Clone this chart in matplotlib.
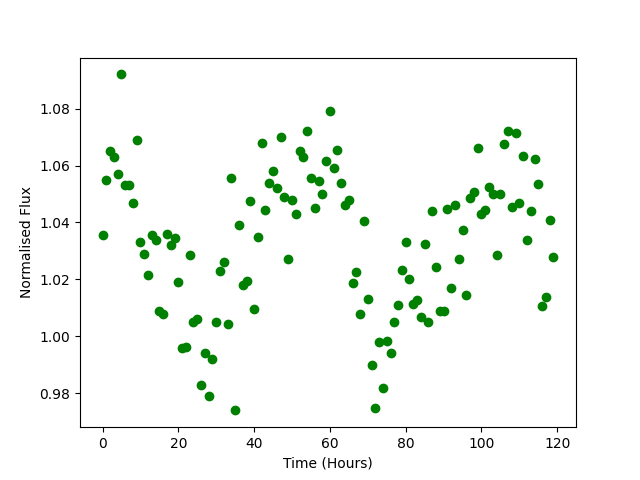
import matplotlib
matplotlib.use("Agg")
import matplotlib.pyplot as plt
import numpy as np

time_hours = list(range(120))
flux = [
    1.0355, 1.055, 1.065, 1.063, 1.057, 1.092, 1.053, 1.053, 1.047, 1.069,
    1.033, 1.029, 1.0215, 1.0355, 1.034, 1.009, 1.008, 1.036, 1.032, 1.0345,
    1.019, 0.996, 0.9963, 1.0285, 1.005, 1.006, 0.983, 0.994, 0.979, 0.992,
    1.005, 1.023, 1.026, 1.0045, 1.0557, 0.974, 1.039, 1.018, 1.0195, 1.0475,
    1.0095, 1.035, 1.068, 1.0445, 1.054, 1.058, 1.052, 1.070, 1.049, 1.027,
    1.048, 1.043, 1.065, 1.063, 1.072, 1.0557, 1.045, 1.0545, 1.050, 1.0615,
    1.079, 1.059, 1.0655, 1.054, 1.046, 1.048, 1.0188, 1.0225, 1.008, 1.0405,
    1.013, 0.990, 0.975, 0.998, 0.982, 0.9985, 0.994, 1.005, 1.011, 1.0233,
    1.033, 1.020, 1.0115, 1.0127, 1.0067, 1.0323, 1.005, 1.044, 1.0245, 1.009,
    1.009, 1.0447, 1.017, 1.046, 1.027, 1.0375, 1.0145, 1.0487, 1.0506, 1.066,
    1.043, 1.0445, 1.0525, 1.050, 1.0285, 1.050, 1.0675, 1.072, 1.0455, 1.0714,
    1.047, 1.0635, 1.034, 1.044, 1.0623, 1.0535, 1.0107, 1.0138, 1.041, 1.028,
]

fig, ax = plt.subplots(figsize=(6.4, 4.8), dpi=100)
ax.plot(time_hours, flux, 'go')
ax.set_xlabel('Time (Hours)')
ax.set_ylabel('Normalised Flux')
fig.savefig('out.png')
